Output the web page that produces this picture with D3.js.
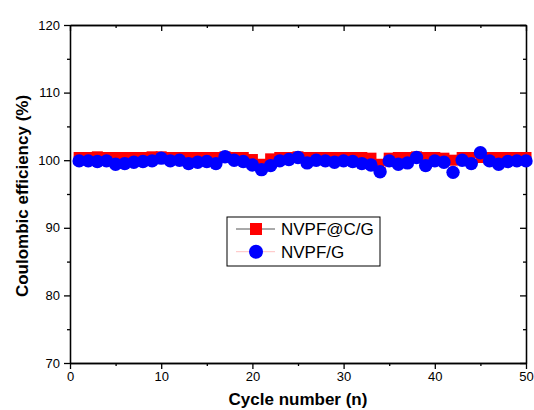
<!DOCTYPE html>
<html>
    <head>
        <meta charset="utf-8">
        <title>Coulombic efficiency</title>
        <script src="https://d3js.org/d3.v7.min.js"></script>
        <style>
         body { margin: 0; background: #fff; }
         svg text { font-family: "Liberation Sans", Arial, sans-serif; }
        </style>
    </head>

    <body>
        <div id="chart"></div>

        <script>
         // cycle numbers 1..50
         var cycles = [1,2,3,4,5,6,7,8,9,10,11,12,13,14,15,16,17,18,19,20,
                       21,22,23,24,25,26,27,28,29,30,31,32,33,34,35,36,37,38,39,40,
                       41,42,43,44,45,46,47,48,49,50];

         // NVPF@C/G (red squares)
         var ceNVPFCG = [100.4,100.4,100.5,100.4,100.4,100.4,100.4,100.4,100.5,100.5,
                         100.4,100.4,100.4,100.4,100.4,100.4,100.5,100.4,100.4,100.1,
                         99.4,100.2,100.4,100.4,100.5,100.4,100.4,100.4,100.4,100.4,
                         100.4,100.4,100.3,99.4,100.3,100.4,100.4,100.5,100.4,100.4,
                         100.3,100.0,100.4,100.4,100.4,100.4,100.4,100.4,100.4,100.4];

         // NVPF/G (blue circles)
         var ceNVPFG = [99.9,99.9,99.8,99.9,99.4,99.5,99.7,99.8,99.9,100.3,
                        99.9,100.0,99.5,99.7,99.8,99.5,100.5,100.0,99.8,99.3,
                        98.6,99.2,99.9,100.1,100.4,99.6,100.0,99.9,99.7,99.9,
                        99.8,99.5,99.3,98.3,99.9,99.4,99.6,100.4,99.2,99.9,
                        99.7,98.2,100.0,99.5,101.1,99.9,99.4,99.8,99.9,99.9];

         var xMajor = [0,10,20,30,40,50];
         var xMinor = [5,15,25,35,45];
         var yMajor = [70,80,90,100,110,120];
         var yMinor = [75,85,95,105,115];

         var seriesNames = ["NVPF@C/G", "NVPF/G"];

         var W = 534, H = 410;
         var m = {top: 25, right: 8, bottom: 47, left: 70};
         var w = W - m.left - m.right, h = H - m.top - m.bottom;

         var svg = d3.select("#chart").append("svg")
                     .attr("width", W).attr("height", H);
         var g = svg.append("g").attr("transform", "translate(" + m.left + "," + m.top + ")");

         var x = d3.scaleLinear().domain([0, 50]).range([0, w]);
         var y = d3.scaleLinear().domain([70, 120]).range([h, 0]);

         function styleAxis(sel) {
             sel.select(".domain").attr("stroke", "#000").attr("stroke-width", 1.3);
             sel.selectAll(".tick line").attr("stroke", "#000").attr("stroke-width", 1.3);
             sel.selectAll(".tick text").attr("fill", "#000").style("font-size", "13px");
         }

         // bottom / left, ticks out
         g.append("g").attr("transform", "translate(0," + h + ")")
          .call(d3.axisBottom(x).tickValues(xMajor).tickSize(6).tickSizeOuter(0).tickPadding(3))
          .call(styleAxis);
         g.append("g").attr("transform", "translate(0," + h + ")")
          .call(d3.axisBottom(x).tickValues(xMinor).tickSize(3).tickFormat("").tickSizeOuter(0))
          .call(styleAxis);
         g.append("g")
          .call(d3.axisLeft(y).tickValues(yMajor).tickSize(6).tickSizeOuter(0).tickPadding(4))
          .call(styleAxis);
         g.append("g")
          .call(d3.axisLeft(y).tickValues(yMinor).tickSize(3).tickFormat("").tickSizeOuter(0))
          .call(styleAxis);

         // top / right, ticks in
         g.append("g")
          .call(d3.axisTop(x).tickValues(xMajor).tickSize(-6).tickFormat("").tickSizeOuter(0))
          .call(styleAxis);
         g.append("g")
          .call(d3.axisTop(x).tickValues(xMinor).tickSize(-3).tickFormat("").tickSizeOuter(0))
          .call(styleAxis);
         g.append("g").attr("transform", "translate(" + w + ",0)")
          .call(d3.axisRight(y).tickValues(yMajor).tickSize(-6).tickFormat("").tickSizeOuter(0))
          .call(styleAxis);
         g.append("g").attr("transform", "translate(" + w + ",0)")
          .call(d3.axisRight(y).tickValues(yMinor).tickSize(-3).tickFormat("").tickSizeOuter(0))
          .call(styleAxis);

         // series
         var line = d3.line().x(function(d) { return x(d[0]); }).y(function(d) { return y(d[1]); });
         var red = d3.zip(cycles, ceNVPFCG);
         var blue = d3.zip(cycles, ceNVPFG);

         g.append("path").datum(red).attr("d", line)
          .attr("fill", "none").attr("stroke", "#555").attr("stroke-width", 1);
         g.selectAll("rect.sq").data(red).enter().append("rect")
          .attr("class", "sq")
          .attr("x", function(d) { return x(d[0]) - 5.5; })
          .attr("y", function(d) { return y(d[1]) - 5.5; })
          .attr("width", 11).attr("height", 11)
          .attr("fill", "#ff0000");

         g.append("path").datum(blue).attr("d", line)
          .attr("fill", "none").attr("stroke", "#ffc0c0").attr("stroke-width", 1);
         g.selectAll("circle.dot").data(blue).enter().append("circle")
          .attr("class", "dot")
          .attr("cx", function(d) { return x(d[0]); })
          .attr("cy", function(d) { return y(d[1]); })
          .attr("r", 6.7)
          .attr("fill", "#0000ff");

         // axis titles
         svg.append("text")
            .attr("x", m.left + w / 2).attr("y", 405)
            .attr("text-anchor", "middle")
            .style("font-size", "17px").style("font-weight", "bold")
            .text("Cycle number (n)");
         svg.append("text")
            .attr("transform", "translate(28," + (m.top + h / 2 + 2) + ") rotate(-90)")
            .attr("text-anchor", "middle")
            .style("font-size", "17px").style("font-weight", "bold")
            .text("Coulombic efficiency (%)");

         // legend
         var lg = svg.append("g").attr("transform", "translate(227,217)");
         lg.append("rect").attr("width", 153).attr("height", 49)
           .attr("fill", "#fff").attr("stroke", "#000").attr("stroke-width", 1);
         var lineCols = ["#555", "#ffc0c0"];
         seriesNames.forEach(function(name, i) {
             var cy = 12 + i * 22.7;
             lg.append("line").attr("x1", 9).attr("x2", 48).attr("y1", cy).attr("y2", cy)
               .attr("stroke", lineCols[i]).attr("stroke-width", 1);
             if (i === 0) {
                 lg.append("rect").attr("x", 23).attr("y", cy - 6).attr("width", 12).attr("height", 12)
                   .attr("fill", "#ff0000");
             } else {
                 lg.append("circle").attr("cx", 29).attr("cy", cy).attr("r", 7)
                   .attr("fill", "#0000ff");
             }
             lg.append("text").attr("x", 54).attr("y", cy + 6)
               .style("font-size", "17px").attr("fill", "#000")
               .text(name);
         });
        </script>
    </body>

</html>
